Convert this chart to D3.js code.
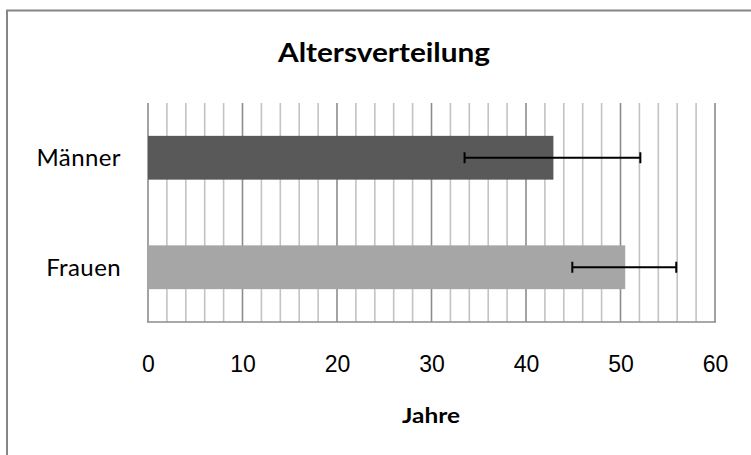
<!DOCTYPE html>
<html>
<head>
<meta charset="utf-8">
<script src="https://cdn.jsdelivr.net/npm/d3@7"></script>
<style>
  html, body { margin: 0; padding: 0; background: #ffffff; }
  svg { display: block; }
</style>
</head>
<body>
<div id="chart"></div>
<script>
// ---- Data ----
const categories = ["Männer", "Frauen"];
const meanAge = [42.9, 50.5];
const errLow = [33.5, 44.9];
const errHigh = [52.1, 55.9];
const barColors = ["#595959", "#a6a6a6"];
const xTicks = [0, 10, 20, 30, 40, 50, 60];
const minorStep = 2;
const chartTitle = "Altersverteilung";
const xTitle = "Jahre";

// ---- Layout ----
const W = 751, H = 455;
const plot = { left: 148, right: 715, top: 103, bottom: 322 };

const svg = d3.select("#chart").append("svg")
  .attr("width", W).attr("height", H);

// outer frame (extends beyond the visible window on right/bottom)
svg.append("path")
  .attr("d", `M7,${H + 5} L7,10.5 L${W + 5},10.5`)
  .attr("fill", "none").attr("stroke", "#868686").attr("stroke-width", 2);

const x = d3.scaleLinear().domain([0, 60]).range([plot.left, plot.right]);
const y = d3.scaleBand().domain(categories).range([plot.top, plot.bottom]).padding(0);

// minor gridlines
const minor = d3.range(0, 60 + 0.001, minorStep).filter(v => v % 10 !== 0);
svg.append("g").selectAll("line").data(minor).join("line")
  .attr("x1", d => x(d)).attr("x2", d => x(d))
  .attr("y1", plot.top).attr("y2", plot.bottom)
  .attr("stroke", "#c3c3c3").attr("stroke-width", 1.6);

// major gridlines
svg.append("g").selectAll("line").data(xTicks).join("line")
  .attr("x1", d => x(d)).attr("x2", d => x(d))
  .attr("y1", plot.top).attr("y2", plot.bottom)
  .attr("stroke", "#8c8c8c").attr("stroke-width", 1.6);

// bottom axis line
svg.append("line")
  .attr("x1", plot.left - 1).attr("x2", plot.right + 1)
  .attr("y1", plot.bottom).attr("y2", plot.bottom)
  .attr("stroke", "#8c8c8c").attr("stroke-width", 1.6);

// bars
const barH = y.bandwidth() * 0.4;
svg.append("g").selectAll("rect").data(categories).join("rect")
  .attr("x", x(0))
  .attr("y", d => y(d) + (y.bandwidth() - barH) / 2)
  .attr("width", (d, i) => x(meanAge[i]) - x(0))
  .attr("height", barH)
  .attr("fill", (d, i) => barColors[i]);

// error bars
const eb = svg.append("g").attr("stroke", "#000").attr("stroke-width", 2);
categories.forEach((c, i) => {
  const cy = y(c) + y.bandwidth() / 2;
  eb.append("line").attr("x1", x(errLow[i])).attr("x2", x(errHigh[i]))
    .attr("y1", cy).attr("y2", cy);
  [errLow[i], errHigh[i]].forEach(v => {
    eb.append("line").attr("x1", x(v)).attr("x2", x(v))
      .attr("y1", cy - 5.5).attr("y2", cy + 5.5);
  });
});

// x tick labels
const xAxis = d3.axisBottom(x).tickValues(xTicks).tickSize(0).tickPadding(0).tickFormat(d3.format("d"));
const gx = svg.append("g").attr("transform", `translate(0,${plot.bottom})`).call(xAxis);
gx.select(".domain").remove();
gx.selectAll("text")
  .attr("dy", null).attr("y", 50)
  .attr("font-family", "'Liberation Sans', Arial, sans-serif")
  .attr("font-size", 23).attr("fill", "#000");

// y category labels
const yAxis = d3.axisLeft(y).tickSize(0).tickPadding(0);
const gy = svg.append("g").attr("transform", `translate(${plot.left - 27},0)`).call(yAxis);
gy.select(".domain").remove();
gy.selectAll("text")
  .attr("dy", "0.36em")
  .attr("font-family", "Lato, 'Open Sans', sans-serif")
  .attr("font-size", 24).attr("letter-spacing", "0.4px").attr("fill", "#000");

// title
svg.append("text").text(chartTitle)
  .attr("x", 384).attr("y", 62)
  .attr("text-anchor", "middle")
  .attr("textLength", 212).attr("lengthAdjust", "spacingAndGlyphs")
  .attr("font-family", "Lato, 'Open Sans', sans-serif")
  .attr("font-weight", "bold").attr("font-size", 26).attr("fill", "#000");

// x axis title
svg.append("text").text(xTitle)
  .attr("x", 431).attr("y", 423)
  .attr("text-anchor", "middle")
  .attr("textLength", 58).attr("lengthAdjust", "spacingAndGlyphs")
  .attr("font-family", "Lato, 'Open Sans', sans-serif")
  .attr("font-weight", "bold").attr("font-size", 21).attr("fill", "#000");
</script>
</body>
</html>
